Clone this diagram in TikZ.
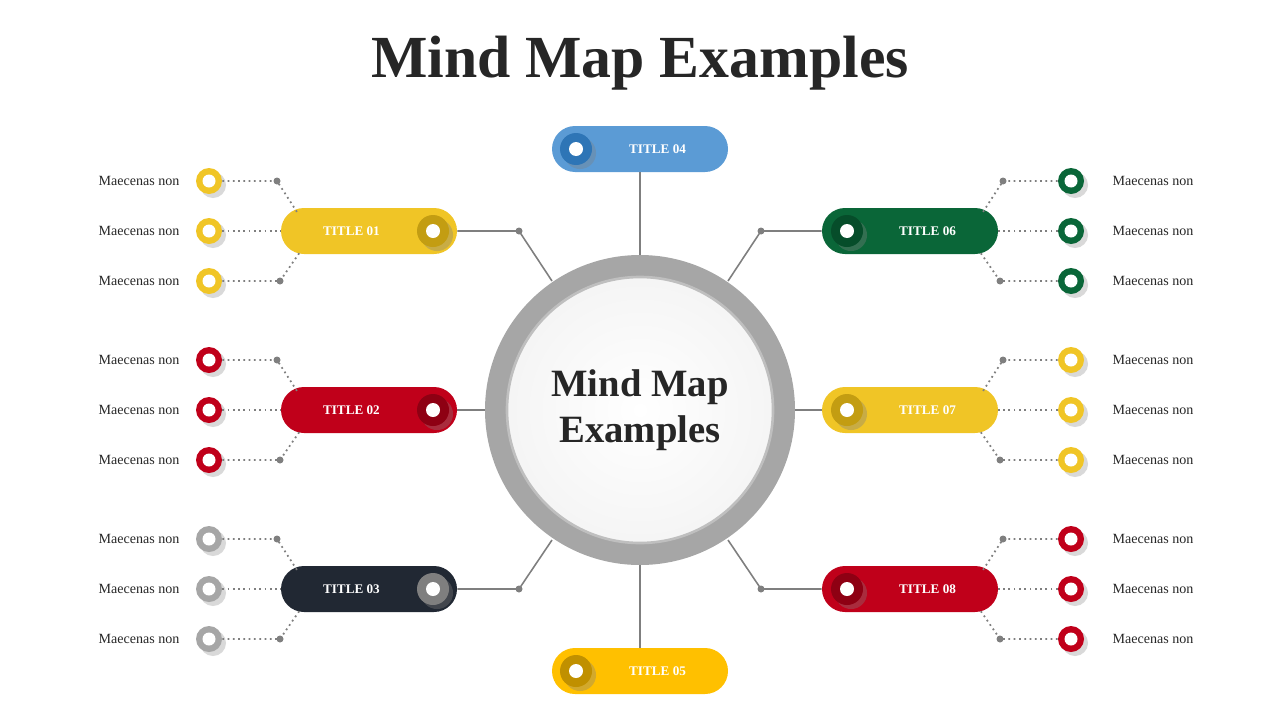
\documentclass[tikz,border=0pt]{standalone}
\usepackage{fontspec}
\setmainfont{Liberation Serif}
\usetikzlibrary{shapes,positioning,shadows}
\definecolor{cyel}{HTML}{F0C526}\definecolor{kyel}{HTML}{C39D12}
\definecolor{cred}{HTML}{C0001A}\definecolor{kred}{HTML}{8E0013}
\definecolor{cdark}{HTML}{212833}\definecolor{kdark}{HTML}{7F7F7F}
\definecolor{cgray}{HTML}{A6A6A6}
\definecolor{cblue}{HTML}{5B9BD5}\definecolor{kblue}{HTML}{2E75B6}
\definecolor{cgreen}{HTML}{0A6638}\definecolor{kgreen}{HTML}{064D2A}
\definecolor{corng}{HTML}{FFC000}\definecolor{korng}{HTML}{C09000}
\definecolor{cline}{HTML}{7F7F7F}
\tikzset{
  pill/.style={rounded rectangle,minimum width=176*0.02cm,minimum height=46*0.02cm,
    inner sep=0pt,text=white,font=\bfseries\fontsize{7.5}{8}\selectfont},
  knob/.style={circle,fill=#1,minimum size=32*0.02cm,inner sep=0pt,drop shadow={opacity=.35}},
  hole/.style={circle,fill=white,minimum size=14*0.02cm,inner sep=0pt},
  leaf/.style={circle,fill=#1,minimum size=26*0.02cm,inner sep=0pt,drop shadow={opacity=.3}},
  leafhole/.style={circle,fill=white,minimum size=13*0.02cm,inner sep=0pt},
  link/.style={draw=cline,line width=0.9pt},
  dots/.style={draw=cline,line width=1pt,dotted},
  pin/.style={circle,fill=cline,minimum size=7*0.02cm,inner sep=0pt},
  lbl/.style={font=\fontsize{8}{9}\selectfont,text=black!85}
}
\begin{document}
\begin{tikzpicture}[x=0.02cm,y=-0.02cm]
\useasboundingbox (0,0) rectangle (1280,720);
\node[font=\bfseries\fontsize{34}{38}\selectfont,text=black!85] (title) at (640,63) {Mind Map Examples};
% center
\fill[cgray] (640,410) circle (155);
\shade[inner color=white,outer color=black!4] (640,410) circle (133);
\draw[black!25,line width=1.5pt] (640,410) circle (133);
\node[align=center,font=\bfseries\fontsize{22}{26}\selectfont,text=black!85] (hub) at (640,410) {Mind Map\\Examples};
\coordinate (c01) at (552,281); \coordinate (c03) at (552,540);
\coordinate (c06) at (728,281); \coordinate (c08) at (728,540);
\coordinate (c02) at (485,410); \coordinate (c07) at (795,410);
\coordinate (c04) at (640,255); \coordinate (c05) at (640,565);
% titles
\foreach \n/\x/\y/\c/\k/\kx in {01/369/231/cyel/kyel/433, 02/369/410/cred/kred/433, 03/369/589/cdark/kdark/433,
    04/640/149/cblue/kblue/576, 05/640/671/corng/korng/576,
    06/910/231/cgreen/kgreen/847, 07/910/410/cyel/kyel/847, 08/910/589/cred/kred/847}{
  \node[pill,fill=\c] (t\n) at (\x,\y) {\hspace*{\ifnum\kx<500 -20\else 20\fi pt}TITLE \n};
  \node[knob=\k] (k\n) at (\kx,\y) {};
  \node[hole] at (k\n) {};
}
% connectors to hub
\node[pin] (p01) at (519,231) {}; \node[pin] (p03) at (519,589) {};
\node[pin] (p06) at (761,231) {}; \node[pin] (p08) at (761,589) {};
\draw[link] (t01.east) -- (p01.center) -- (c01);
\draw[link] (t03.east) -- (p03.center) -- (c03);
\draw[link] (t06.west) -- (p06.center) -- (c06);
\draw[link] (t08.west) -- (p08.center) -- (c08);
\draw[link] (t02.east) -- (c02);
\draw[link] (t07.west) -- (c07);
\draw[link] (t04.south) -- (c04);
\draw[link] (t05.north) -- (c05);
% left leaves
\foreach \n/\y/\c in {01/231/cyel, 02/410/cred, 03/589/cgray}{
  \foreach \i/\d in {a/-50,b/0,c/50}{
    \node[leaf=\c] (l\n\i) at (209,\y+\d) {};
    \node[leafhole] at (l\n\i) {};
    \node[lbl,left=10*0.02cm of l\n\i] {Maecenas non};
  }
  \node[pin] (q\n a) at (277,\y-50) {};
  \node[pin] (q\n c) at (280,\y+50) {};
  \draw[dots] (l\n a.east) -- (q\n a.center) -- (297,\y-19);
  \draw[dots] (l\n b.east) -- (t\n.west);
  \draw[dots] (l\n c.east) -- (q\n c.center) -- (300,\y+21);
}
% right leaves
\foreach \n/\y/\c in {06/231/cgreen, 07/410/cyel, 08/589/cred}{
  \foreach \i/\d in {a/-50,b/0,c/50}{
    \node[leaf=\c] (l\n\i) at (1071,\y+\d) {};
    \node[leafhole] at (l\n\i) {};
    \node[lbl,right=22*0.02cm of l\n\i] {Maecenas non};
  }
  \node[pin] (q\n a) at (1003,\y-50) {};
  \node[pin] (q\n c) at (1000,\y+50) {};
  \draw[dots] (l\n a.west) -- (q\n a.center) -- (983,\y-19);
  \draw[dots] (l\n b.west) -- (t\n.east);
  \draw[dots] (l\n c.west) -- (q\n c.center) -- (980,\y+21);
}
\end{tikzpicture}
\end{document}
